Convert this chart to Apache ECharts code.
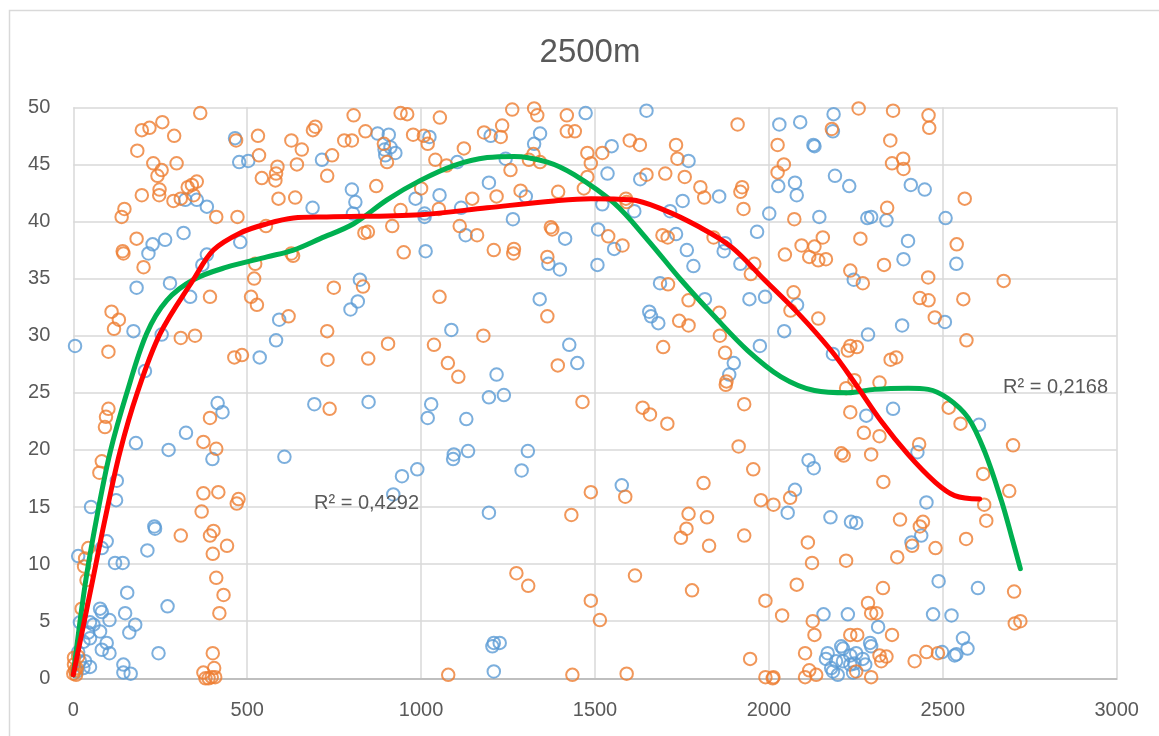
<!DOCTYPE html>
<html>
<head>
<meta charset="utf-8">
<title>2500m</title>
<script src="https://cdn.jsdelivr.net/npm/echarts@6/dist/echarts.min.js"></script>
<style>
  html, body { margin: 0; padding: 0; background: #ffffff; }
  #chart { width: 1159px; height: 736px; }
</style>
</head>
<body>
<div id="chart"></div>
<script>
// Scatter readings [distance, value]
const seriesBlue = [
  [322,41.9],[355,41.9],[384,41.3],[465,47.3],[477,45.2],[503,45.3],[688,41.2],[480,38.2],[317,39.0],[264,38.4],
  [228,38.0],[216,37.2],[384,37.1],[371,36.2],[182,34.2],[278,34.6],[336,33.4],[173,30.4],[254,30.1],[592,31.4],
  [583,29.6],[5,29.1],[536,28.1],[206,26.9],
  [1473,49.5],[875,47.7],[907,47.6],[895,46.3],[912,46.5],[926,46.0],[897,45.8],[1024,47.4],[1104,45.2],[715,45.4],
  [1200,47.5],[1325,46.8],[1342,47.7],[1243,45.5],[801,42.8],[811,41.7],[804,40.7],[984,42.0],[1053,42.3],[1010,40.7],
  [1010,40.4],[1115,41.2],[1195,43.4],[1301,42.2],[1128,38.8],[1264,40.2],[1414,38.5],[1013,37.4],[1366,36.3],[1399,35.8],
  [824,34.9],[818,33.0],[797,32.3],[1341,33.2],[1087,30.5],[1217,26.6],[1426,29.2],[1449,27.6],
  [1648,49.7],[2030,48.5],[2090,48.7],[2186,49.4],[2184,47.9],[2128,46.7],[2131,46.6],[1548,46.6],[1769,45.3],[1536,44.2],
  [1630,43.7],[1857,42.2],[1752,41.8],[2027,43.1],[2075,43.4],[2080,42.3],[2190,44.0],[2231,43.1],[1521,41.5],[1613,40.9],
  [1716,40.9],[2001,40.7],[2145,40.4],[1509,39.3],[1555,37.6],[1733,38.9],[1874,38.1],[1870,37.4],[1764,37.5],[1783,36.1],
  [1918,36.3],[1966,39.1],[1507,36.2],[2244,34.9],[1687,34.6],[1816,33.2],[1656,32.1],[1661,31.7],[1682,31.1],[1944,33.2],
  [1989,33.4],[2081,32.7],[2044,30.4],[1899,27.6],[1886,26.6],[1974,29.1],[2184,28.4],
  [2408,43.2],[2448,42.8],[2283,40.3],[2294,40.4],[2338,40.1],[2508,40.3],[2400,38.3],[2387,36.7],[2539,36.3],[2506,31.2],
  [2383,30.9],[2285,30.1],
  [415,24.1],[429,23.3],[324,21.5],[180,20.6],[274,20.0],[400,19.2],[125,17.3],[123,15.6],[51,15.0],[233,13.3],
  [235,13.1],[213,11.2],[120,10.1],[142,10.1],[96,12.0],[82,11.4],[14,10.7],[155,7.5],[271,6.3],[149,5.7],
  [178,4.7],[161,4.0],[104,5.1],[77,6.1],[82,5.8],[19,4.9],[48,4.9],[58,4.7],[77,4.1],[43,4.0],
  [29,3.2],[48,3.5],[96,3.1],[82,2.5],[104,2.2],[48,1.0],[245,2.2],[144,1.2],[144,0.5],[165,0.4],
  [14,2.3],[19,1.5],[10,0.6],[29,0.9],[34,1.5],[693,24.0],[607,19.4],
  [849,24.2],[1029,24.0],[1019,22.8],[1130,22.7],[1195,24.6],[1238,24.8],[1094,19.6],[1092,19.2],[1135,19.9],[989,18.3],
  [945,17.7],[920,16.1],[1307,19.9],[1289,18.2],[1195,14.5],[1209,3.1],[1226,3.1],[1205,2.8],[1209,0.6],
  [1577,16.9],[2114,19.1],[2129,18.4],[2075,16.5],[2054,14.5],[2177,14.1],[2236,13.7],[2157,5.6],[2227,5.6],[2208,2.8],
  [2169,2.2],[2164,1.7],[2193,1.5],[2179,0.9],[2198,0.3],[2234,2.0],[2234,1.2],[2184,0.6],
  [2604,22.2],[2357,23.6],[2280,23.0],[2427,19.8],[2453,15.4],[2251,13.6],[2438,12.5],[2410,11.9],[2488,8.5],[2601,7.9],
  [2472,5.6],[2525,5.5],[2314,4.5],[2291,3.1],[2294,2.8],[2251,2.2],[2213,2.6],[2213,1.5],[2498,2.3],[2539,2.1],
  [2534,2.0],[2558,3.5],[2571,2.6],[2270,1.7],[2246,1.3],[2242,0.5],[2277,1.2]
];

const seriesOrange = [
  [365,49.5],[197,48.0],[219,48.2],[256,48.7],[290,47.5],[184,46.2],[230,45.1],[254,44.5],[242,44.0],[297,45.1],
  [197,42.3],[248,42.8],[247,42.3],[288,41.8],[309,42.0],[329,43.0],[341,43.2],[355,43.5],[346,42.3],[411,40.4],
  [147,41.1],[139,40.4],[468,47.1],[531,47.5],[534,45.8],[542,43.8],[581,43.6],[587,44.8],[583,44.2],[590,42.0],
  [638,42.1],[643,45.0],[657,46.3],[627,47.1],[689,48.0],[696,48.3],[472,40.4],[554,39.6],[182,38.5],[142,37.4],
  [144,37.2],[202,36.0],[523,36.3],[520,35.0],[627,37.2],[632,37.0],[393,33.4],[511,33.4],[528,32.7],[110,32.1],
  [131,31.4],[117,30.6],[309,29.8],[350,30.0],[619,31.7],[101,28.6],[463,28.1],[485,28.3],
  [806,49.3],[941,49.5],[960,49.4],[1054,49.1],[1262,49.8],[1325,49.9],[1334,49.3],[1419,49.3],[840,47.9],[779,47.1],
  [801,47.1],[893,46.8],[902,45.2],[977,47.6],[1008,47.5],[1019,46.8],[1041,45.4],[1073,44.9],[1123,46.4],[744,45.8],
  [730,44.0],[1181,47.8],[1229,47.4],[1233,48.4],[1419,47.9],[1442,47.9],[1310,45.4],[1323,45.9],[1342,45.2],[1257,44.5],
  [1478,46.0],[1488,45.1],[871,43.1],[1000,42.9],[941,41.0],[1051,41.1],[1147,42.0],[1217,42.2],[1286,42.7],[1394,42.6],
  [1468,42.9],[1478,43.9],[917,39.6],[837,39.0],[847,39.1],[1111,39.6],[1161,38.8],[1373,39.5],[1377,39.3],[950,37.3],
  [1209,37.5],[1267,37.6],[1265,37.2],[1363,36.9],[833,34.3],[749,34.2],[1053,33.4],[1363,31.7],[730,30.4],[731,27.9],
  [848,28.0],[905,29.3],[1037,29.2],[1179,30.0],[1077,27.6],[1107,26.4],[1393,27.4],
  [1910,48.5],[2181,48.1],[2025,46.7],[1521,46.0],[1600,47.1],[1629,46.7],[1733,46.7],[1737,45.5],[1648,44.1],[1702,44.2],
  [1758,43.9],[1803,43.0],[1814,42.1],[1923,43.0],[1918,42.6],[1927,41.1],[2025,44.3],[2043,45.0],[1589,42.0],[1591,41.7],
  [2073,40.2],[1538,38.7],[1579,37.9],[1694,38.8],[1709,38.6],[1841,38.6],[1958,36.3],[1948,35.4],[2094,37.9],[2131,37.8],
  [2155,38.6],[2116,36.9],[2142,36.6],[2164,36.7],[2046,37.1],[2234,35.7],[1710,34.5],[1769,33.1],[1857,32.0],[1742,31.3],
  [1769,30.9],[2071,33.8],[2062,32.2],[2142,31.5],[1859,30.0],[1874,28.5],[1878,26.0],[1696,29.0],[2227,28.7],[2234,29.1],
  [2222,25.4],
  [2258,49.9],[2357,49.7],[2459,49.3],[2461,48.2],[2349,47.1],[2386,45.5],[2354,45.1],[2387,44.6],[2563,42.0],[2340,41.2],
  [2263,38.5],[2540,38.0],[2331,36.2],[2270,34.6],[2458,35.1],[2675,34.8],[2434,33.3],[2459,33.1],[2559,33.2],[2477,31.6],
  [2253,29.0],[2568,29.6],[2350,27.9],[2366,28.1],[2318,25.9],[2246,26.1],
  [101,23.6],[94,22.9],[91,22.0],[393,22.8],[374,20.7],[411,20.1],[82,19.0],[75,18.0],[374,16.2],[417,16.3],
  [475,15.7],[470,15.3],[369,14.6],[309,12.5],[403,12.9],[393,12.5],[442,11.6],[401,10.9],[43,11.4],[34,10.5],
  [31,9.8],[38,8.6],[411,8.8],[432,7.3],[420,5.7],[24,6.1],[401,2.2],[405,0.9],[374,0.5],[398,0.1],
  [389,0.0],[408,0.1],[380,0.0],[2,1.2],[5,0.7],[0,0.4],[8,0.3],[2,1.8],[10,0.9],[14,1.9],
  [737,23.6],[1464,24.2],[1488,16.3],[1432,14.3],[1274,9.2],[1308,8.1],[1488,6.8],[1078,0.3],[1435,0.3],
  [1637,23.7],[1658,23.1],[1708,22.3],[1929,24.0],[1876,25.7],[1913,20.3],[1955,18.3],[1587,15.9],[1812,17.1],[1977,15.6],
  [2013,15.2],[2061,15.8],[2208,19.7],[2215,19.5],[2234,23.3],[1769,14.4],[1822,14.1],[1763,13.1],[1747,12.3],[1828,11.6],
  [1929,12.5],[2112,11.9],[2124,10.1],[2222,10.3],[1615,9.0],[1779,7.7],[1514,5.1],[1990,6.8],[2038,5.5],[2080,8.2],
  [2126,5.0],[2131,3.8],[2234,3.8],[1946,1.7],[2104,2.2],[1591,0.4],[1990,0.1],[2013,0.1],[2011,0.0],[2104,0.1],
  [2116,0.7],[2136,0.3],
  [2517,23.7],[2551,22.3],[2702,20.4],[2273,21.5],[2318,21.2],[2294,19.6],[2432,20.5],[2329,17.2],[2616,17.9],[2691,16.4],
  [2619,15.2],[2625,13.8],[2377,13.9],[2443,13.7],[2434,13.3],[2412,11.6],[2479,11.4],[2369,10.6],[2567,12.2],[2705,7.6],
  [2328,7.9],[2285,6.6],[2294,5.7],[2309,5.7],[2707,4.8],[2723,5.0],[2254,3.8],[2354,3.8],[2318,2.0],[2338,1.9],
  [2323,1.5],[2453,2.3],[2486,2.2],[2419,1.5],[2251,0.6],[2294,0.1]
];

// Polynomial trend curves, sampled along their length
const trendBlue = [
  [0,0.3],[53,8.2],[91,13.9],[134,19.8],[184,25.0],[250,30.2],[345,34.9],[403,37.5],[480,39.0],[557,39.8],
  [633,40.3],[729,40.4],[998,40.6],[1190,41.2],[1382,41.8],[1488,42.0],[1603,41.9],[1699,41.0],[1795,39.6],[1891,37.8],
  [1987,34.9],[2083,32.0],[2179,28.7],[2246,25.9],[2323,22.5],[2400,19.6],[2477,17.2],[2534,16.0],[2606,15.7]
];
const trendOrange = [
  [0,0.3],[34,8.2],[67,14.0],[106,19.8],[154,25.0],[211,30.2],[269,33.1],[345,34.9],[441,36.0],[557,36.9],
  [633,37.5],[710,38.5],[806,39.8],[902,41.9],[998,43.6],[1094,44.9],[1190,45.6],[1267,45.7],[1363,45.2],[1440,44.1],
  [1555,41.6],[1651,38.4],[1747,34.9],[1843,31.7],[1939,28.7],[2035,26.4],[2131,25.2],[2227,25.0],[2304,25.3],[2400,25.4],
  [2458,25.3],[2515,24.5],[2573,22.8],[2621,19.8],[2669,15.5],[2697,12.5],[2723,9.6]
];

const chartTitle = '2500m';
const r2Blue = 'R² = 0,4292';
const r2Orange = 'R² = 0,2168';

const textColor = '#595959';
const fontFamily = '"Liberation Sans", Arial, sans-serif';

const chart = echarts.init(document.getElementById('chart'), null, { renderer: 'canvas' });

chart.setOption({
  backgroundColor: '#ffffff',
  animation: false,
  grid: { left: 73.3, top: 107.3, right: 42.3, bottom: 57.7, containLabel: false },
  xAxis: {
    type: 'value', min: 0, max: 3000, interval: 500,
    axisLine: { show: true, lineStyle: { color: '#bfbfbf', width: 2 } },
    axisTick: { show: false },
    axisLabel: { color: textColor, fontSize: 20, fontFamily: fontFamily, margin: 22,
      formatter: function (v) { return String(v); } },
    splitLine: { show: true, showMinLine: true, showMaxLine: true, lineStyle: { color: '#d9d9d9', width: 1.5 } }
  },
  yAxis: {
    type: 'value', min: 0, max: 50, interval: 5,
    axisLine: { show: false },
    axisTick: { show: false },
    axisLabel: { color: textColor, fontSize: 20, fontFamily: fontFamily, margin: 23,
      formatter: function (v) { return String(v); } },
    splitLine: { show: true, showMinLine: true, showMaxLine: true, lineStyle: { color: '#d9d9d9', width: 1.5 } }
  },
  graphic: [
    { type: 'rect', silent: true, z: -10,
      shape: { x: 9.5, y: 10.5, width: 1200, height: 800 },
      style: { fill: 'none', stroke: '#d9d9d9', lineWidth: 1.5 } },
    { type: 'text', x: 590, y: 53, silent: true,
      style: { text: chartTitle, fill: textColor, font: '33px ' + fontFamily, textAlign: 'center', textVerticalAlign: 'middle' } },
    { type: 'text', x: 314, y: 503, silent: true, z: 20,
      style: { text: r2Blue, fill: textColor, font: '20px ' + fontFamily, textAlign: 'left', textVerticalAlign: 'middle' } },
    { type: 'text', x: 1003, y: 387, silent: true, z: 20,
      style: { text: r2Orange, fill: textColor, font: '20px ' + fontFamily, textAlign: 'left', textVerticalAlign: 'middle' } }
  ],
  series: [
    {
      name: 'Série 1', type: 'scatter', data: seriesBlue, symbol: 'circle', symbolSize: 12.5, z: 2,
      itemStyle: { color: 'rgba(0,0,0,0)', borderColor: '#5B9BD5', borderWidth: 2 }
    },
    {
      name: 'Série 2', type: 'scatter', data: seriesOrange, symbol: 'circle', symbolSize: 12.5, z: 3,
      itemStyle: { color: 'rgba(0,0,0,0)', borderColor: '#ED7D31', borderWidth: 2 }
    },
    {
      name: 'Tendência 2', type: 'line', data: trendOrange, smooth: 0.35, showSymbol: false, z: 4,
      lineStyle: { color: '#00B050', width: 5, cap: 'round' }
    },
    {
      name: 'Tendência 1', type: 'line', data: trendBlue, smooth: 0.35, showSymbol: false, z: 5,
      lineStyle: { color: '#FF0000', width: 5, cap: 'round' }
    }
  ]
});
</script>
</body>
</html>
